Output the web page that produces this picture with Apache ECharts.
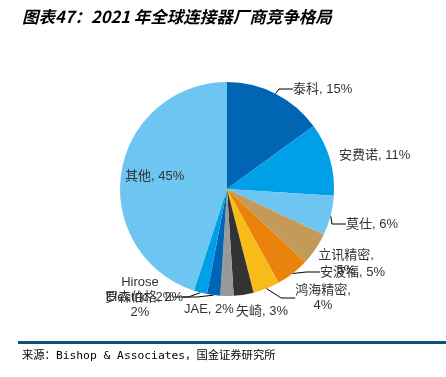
<!DOCTYPE html>
<html><head><meta charset="utf-8">
<script src="https://cdn.jsdelivr.net/npm/echarts@6/dist/echarts.min.js"></script>
<style>html,body{margin:0;padding:0;background:#fff}#c{width:446px;height:377px}</style>
</head><body><div id="c"></div>
<script>
const names = ['泰科','安费诺','莫仕','立讯精密','安波福','鸿海精密','矢崎','JAE','罗森伯格','Hirose Electric','其他'];
const values = [15,11,6,5,5,4,3,2,2,2,45];
const colors = ['#0066B3','#00A0E9','#6DC6F2','#C49A5A','#EA830C','#F8BB1A','#333333','#999999','#0066B3','#00A0E9','#6DC6F2'];
const titleText = '图表47：2021 年全球连接器厂商竞争格局';
const sourceText = '来源：Bishop & Associates，国金证券研究所';

// label placement (left/center x, center y, alignment) per slice
const labelPos = [
  [293, 89, 'left'],
  [339, 155, 'left'],
  [346, 224, 'left'],
  [346, 263, 'center'],
  [320, 272, 'left'],
  [323, 298, 'center'],
  [236, 311, 'left'],
  [184, 309, 'left'],
  [105, 297, 'left'],
  [140, 297, 'center'],
  [125, 176, 'left']
];
const noLine = ['安费诺','立讯精密','矢崎','JAE','其他'];

function fmt(i){
  const n = names[i], v = values[i] + '%';
  if (n === '立讯精密' || n === '鸿海精密') return n + ',\n' + v;
  if (n === 'Hirose Electric') return 'Hirose\nElectric, ' + v + '\n' + v;
  return n + ', ' + v;
}

const chart = echarts.init(document.getElementById('c'));
const data = names.map((n,i)=>{
  const d = {name:n, value:values[i], itemStyle:{color:colors[i]}, label:{formatter: fmt(i)}};
  if (n === '其他') { d.label.position = 'inside'; }
  if (noLine.indexOf(n) >= 0) { d.labelLine = {show:false}; }
  return d;
});
chart.setOption({
  animation:false,
  graphic:[
    {type:'text', left:22, top:8, style:{text:titleText, font:'italic bold 16.5px "Noto Sans CJK SC"', fill:'#000'}},
    {type:'rect', shape:{x:18,y:341,width:428,height:3}, style:{fill:'#0B5478'}},
    {type:'text', left:22, top:350, style:{text:sourceText, font:'11.3px "DejaVu Sans Mono", "Noto Sans CJK SC"', fill:'#000'}}
  ],
  series:[{
    type:'pie', center:[227,189], radius:107, startAngle:90, clockwise:true,
    data:data,
    label:{show:true, color:'#333', fontSize:13, fontFamily:'"Liberation Sans", "Noto Sans CJK SC"', lineHeight:15},
    labelLine:{show:true, length:8, length2:14, lineStyle:{color:'#000', width:1}},
    labelLayout:function(p){
      const lp = labelPos[p.dataIndex];
      return {x: lp[0], y: lp[1], align: lp[2], verticalAlign:'middle'};
    },
    itemStyle:{borderWidth:0}
  }]
});
</script></body></html>
